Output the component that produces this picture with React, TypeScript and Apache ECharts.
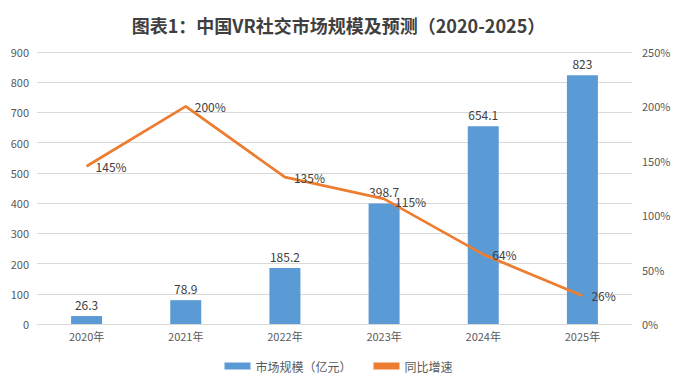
import React, { useEffect, useRef } from "react";
import * as echarts from "echarts";

const categories = ["2020年", "2021年", "2022年", "2023年", "2024年", "2025年"];
const marketSize = [26.3, 78.9, 185.2, 398.7, 654.1, 823];
const growth = [145, 200, 135, 115, 64, 26];
const leftTicks = { min: 0, max: 900, interval: 100 };
const rightTicks = { min: 0, max: 250, interval: 50 };

export default function App() {
  const ref = useRef<HTMLDivElement>(null);
  useEffect(() => {
    const chart = echarts.init(ref.current!, null, { renderer: "svg" });
    const font = "'Microsoft YaHei', 'Noto Sans CJK SC', sans-serif";
    const growthData = growth.map((v, i) =>
      i === 3 ? { value: v, label: { offset: [2, 3] } } : v
    );
    chart.setOption({
      animation: false,
      backgroundColor: "#fff",
      textStyle: { fontFamily: font },
      title: {
        text: "图表1：中国VR社交市场规模及预测（2020-2025）",
        left: "center",
        top: 11,
        textStyle: { fontSize: 18, fontWeight: "bold", color: "#404040", fontFamily: font },
      },
      legend: {
        bottom: 12,
        left: "center",
        itemWidth: 26,
        itemHeight: 7,
        itemGap: 22,
        textStyle: { fontSize: 12, color: "#595959" },
        data: [
          { name: "市场规模（亿元）", icon: "rect" },
          { name: "同比增速", icon: "rect", itemStyle: { color: "#ED7D31" } },
        ],
      },
      grid: { left: 37, right: 45, top: 52, bottom: 65 },
      xAxis: {
        type: "category",
        data: categories,
        axisLine: { lineStyle: { color: "#D9D9D9" } },
        axisTick: { show: false },
        axisLabel: { color: "#595959", fontSize: 11, margin: 6 },
      },
      yAxis: [
        {
          type: "value",
          ...leftTicks,
          axisLine: { show: false },
          axisTick: { show: false },
          splitLine: { lineStyle: { color: "#D9D9D9" } },
          axisLabel: { color: "#595959", fontSize: 11, margin: 8 },
        },
        {
          type: "value",
          ...rightTicks,
          axisLine: { show: false },
          axisTick: { show: false },
          splitLine: { show: false },
          axisLabel: { color: "#595959", fontSize: 11, formatter: "{value}%", margin: 10 },
        },
      ],
      series: [
        {
          name: "市场规模（亿元）",
          type: "bar",
          data: marketSize,
          barWidth: 31,
          itemStyle: { color: "#5B9BD5" },
          label: { show: true, position: "top", color: "#404040", fontSize: 12, distance: 6 },
        },
        {
          name: "同比增速",
          type: "line",
          yAxisIndex: 1,
          data: growthData,
          symbol: "circle",
          symbolSize: 0,
          showSymbol: true,
          lineStyle: { color: "#ED7D31", width: 2.75 },
          itemStyle: { color: "#ED7D31" },
          label: {
            show: true,
            position: "right",
            color: "#404040",
            fontSize: 12,
            formatter: "{c}%",
            distance: 9,
          },
        },
      ],
    });
    return () => chart.dispose();
  }, []);
  return (
    <div
      ref={ref}
      style={{ position: "fixed", left: 0, top: 0, width: 677, height: 389 }}
    />
  );
}
